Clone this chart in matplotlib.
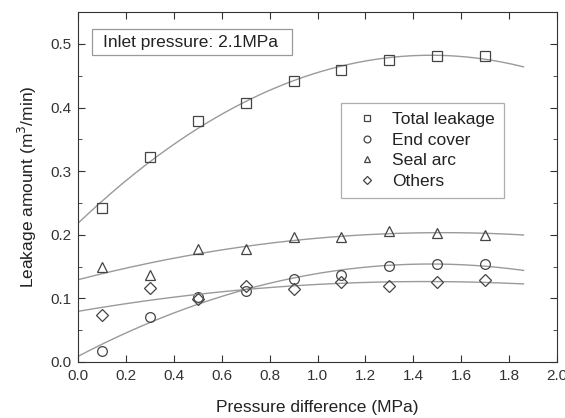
import matplotlib
matplotlib.use("Agg")
import matplotlib.pyplot as plt
import numpy as np
from matplotlib.patches import Rectangle
from matplotlib.ticker import MultipleLocator

plt.rcParams["font.family"] = ["Liberation Sans", "DejaVu Sans"]

pressure = [0.1, 0.3, 0.5, 0.7, 0.9, 1.1, 1.3, 1.5, 1.7]
total = [0.242, 0.323, 0.379, 0.407, 0.441, 0.459, 0.475, 0.481, 0.481]
end_cover = [0.018, 0.070, 0.102, 0.111, 0.131, 0.137, 0.151, 0.154, 0.154]
seal_arc = [0.149, 0.137, 0.178, 0.177, 0.196, 0.196, 0.206, 0.203, 0.200]
others = [0.074, 0.117, 0.099, 0.119, 0.115, 0.126, 0.119, 0.126, 0.129]

series = [
    ("Total leakage", total, "s"),
    ("End cover", end_cover, "o"),
    ("Seal arc", seal_arc, "^"),
    ("Others", others, "D"),
]

fig = plt.figure(figsize=(5.65, 4.18), dpi=100)
ax = fig.add_axes([0.138, 0.134, 0.848, 0.837])

# quadratic fit through each series
xfit = np.linspace(0, 1.86, 200)
for name, vals, mk in series:
    coef = np.polyfit(pressure, vals, 2)
    ax.plot(xfit, np.polyval(coef, xfit), color="#9a9a9a", lw=1.0)
    ms = 6.0 if mk == "D" else 7.0
    ax.plot(pressure, vals, ls="none", marker=mk, ms=ms, mfc="none",
            mec="#444444", mew=0.9, label=name)

ax.set_xlim(0, 2.0)
ax.set_ylim(0, 0.55)
ax.xaxis.set_major_locator(MultipleLocator(0.2))
ax.yaxis.set_major_locator(MultipleLocator(0.1))
ax.yaxis.set_minor_locator(MultipleLocator(0.05))
ax.tick_params(which="both", direction="in", top=True, right=True,
               labelsize=11, colors="#333333", pad=5)
ax.tick_params(which="major", length=5)
ax.tick_params(which="minor", length=3)
for s in ax.spines.values():
    s.set_color("#333333")

ax.set_xlabel("Pressure difference (MPa)", fontsize=12.5, color="#222222", labelpad=12)
ax.set_ylabel("Leakage amount (m$^3$/min)", fontsize=12.5, color="#222222", labelpad=8)

ax.add_patch(Rectangle((0.029, 0.877), 0.418, 0.074, transform=ax.transAxes,
                       fc="white", ec="#999999", lw=0.9, zorder=3))
ax.text(0.052, 0.914, "Inlet pressure: 2.1MPa", transform=ax.transAxes,
        fontsize=12.5, color="#222222", va="center", zorder=4)

leg = ax.legend(loc="upper left", bbox_to_anchor=(0.549, 0.740), fontsize=12.5,
                frameon=True, fancybox=False, edgecolor="#999999",
                borderaxespad=0, handletextpad=0.45, labelspacing=0.32,
                borderpad=0.5, handlelength=2.0, markerscale=0.7)
leg.get_frame().set_linewidth(0.9)
for t in leg.get_texts():
    t.set_color("#222222")

fig.savefig("out.png", dpi=100)
